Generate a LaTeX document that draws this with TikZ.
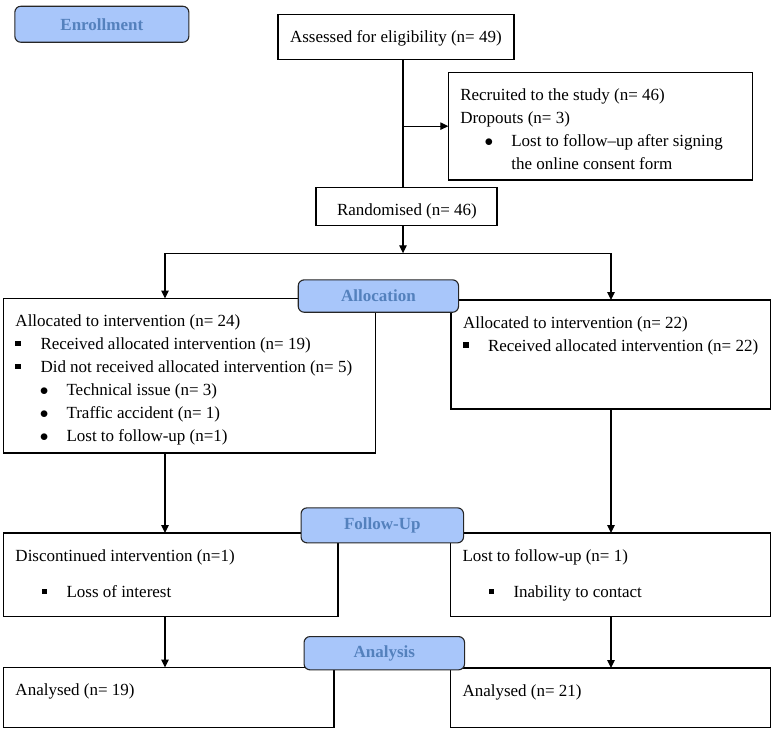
\documentclass[tikz,border=0pt]{standalone}
\usepackage{fontspec}
\setmainfont{Liberation Serif}
\usetikzlibrary{arrows.meta}
\definecolor{stagefill}{RGB}{168,198,250}
\definecolor{stagetext}{RGB}{84,129,189}
% box contents: height, width, lines
\newcommand{\boxtext}[3]{\parbox[b][#1][t]{#2}{\leftskip=12pt\vspace*{12pt}\strut#3}}
\newcommand{\sqbul}{\makebox[25pt][l]{\raisebox{3.5pt}{\rule{5.5pt}{5.5pt}}}}
\newcommand{\subsqbul}{\hspace*{26pt}\makebox[25pt][l]{\raisebox{3.5pt}{\rule{5.5pt}{5.5pt}}}}
\newcommand{\dotbul}{\hspace*{24.3pt}\makebox[26.7pt][l]{$\bullet$}}
\begin{document}
\begin{tikzpicture}[x=1pt,y=-1pt,
  every node/.style={font=\fontsize{17}{23}\selectfont},
  panel/.style={draw,line width=1.1pt,anchor=north west,inner sep=0pt,outer sep=0pt},
  stage/.style={draw=black!85,fill=stagefill,line width=1.1pt,rounded corners=6pt,
    anchor=north west,inner sep=0pt,text=stagetext,font=\fontsize{17}{20}\selectfont\bfseries},
  link/.style={line width=1.1pt},
  arr/.style={line width=1.1pt,-{Triangle[length=8pt,width=7.5pt]}}]
\useasboundingbox (0,0) rectangle (776,731);
%boxes
\node[panel] (assess) at (278,14.3) {\boxtext{45pt}{236pt}{Assessed for eligibility (n= 49)}};
\node[panel] (recruit) at (448.3,72.3) {\boxtext{107.7pt}{304pt}{Recruited to the study (n= 46)\\
  Dropouts (n= 3)\\
  \dotbul Lost to follow--up after signing\\
  \hspace*{51pt}the online consent form}};
\node[panel] (random) at (316,187.3) {\boxtext{38.4pt}{181pt}{\hspace*{9pt}Randomised (n= 46)}};
\node[panel] (allocL) at (3.5,298.5) {\boxtext{154.5pt}{372pt}{Allocated to intervention (n= 24)\\
  \sqbul Received allocated intervention (n= 19)\\
  \sqbul Did not received allocated intervention (n= 5)\\
  \dotbul Technical issue (n= 3)\\
  \dotbul Traffic accident (n= 1)\\
  \dotbul Lost to follow-up (n=1)}};
\node[panel] (allocR) at (451,300) {\boxtext{109pt}{319.5pt}{Allocated to intervention (n= 22)\\
  \sqbul Received allocated intervention (n= 22)}};
\node[panel] (followL) at (3.5,533) {\boxtext{83.7pt}{334.5pt}{Discontinued intervention (n=1)\\[13.7pt]
  \subsqbul Loss of interest}};
\node[panel] (followR) at (450.5,533) {\boxtext{83.7pt}{320pt}{Lost to follow-up (n= 1)\\[13.7pt]
  \subsqbul Inability to contact}};
\node[panel] (analysisL) at (3.5,667.5) {\boxtext{60.2pt}{330.5pt}{Analysed (n= 19)}};
\node[panel] (analysisR) at (450.5,668) {\boxtext{59.7pt}{320pt}{Analysed (n= 21)}};
%connectors
\coordinate (spine) at (403,0);
\coordinate (splitL) at (165,253.3);
\coordinate (splitR) at (611,253.3);
\draw[link] (assess.south -| spine) -- (random.north -| spine);
\draw[arr] (spine |- recruit.west) -- (recruit.west);
\draw[arr] (random.south -| spine) -- (spine |- splitL);
\draw[link] (splitL) -- (splitR);
\draw[arr] (splitL) -- (allocL.north -| splitL);
\draw[arr] (splitR) -- (allocR.north -| splitR);
\foreach \a/\b/\c in {allocL/followL/splitL,allocR/followR/splitR,followL/analysisL/splitL,followR/analysisR/splitR} {
  \draw[arr] (\a.south -| \c) -- (\b.north -| \c);
}
%stages
\node[stage,minimum width=174pt,minimum height=36pt] (enroll) at (14.3,5.7) {Enrollment};
\node[stage,minimum width=160.3pt,minimum height=32.4pt] (allocation) at (297.7,279.3) {Allocation};
\node[stage,minimum width=162.5pt,minimum height=35pt] (followup) at (300.5,507.3) {Follow-Up};
\node[stage,minimum width=160.5pt,minimum height=33.3pt] (analysis) at (303.5,636) {Analysis};
\end{tikzpicture}
\end{document}
